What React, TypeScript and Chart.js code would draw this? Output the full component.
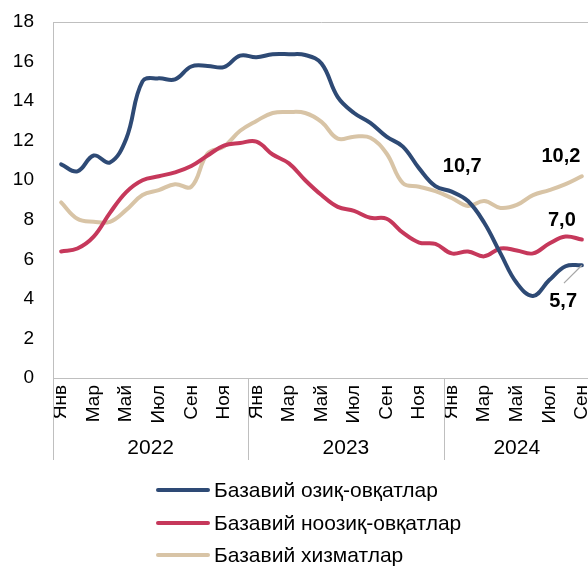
import React, { useEffect, useRef } from 'react';
import { Chart, registerables } from 'chart.js';

Chart.register(...registerables);

const categories: string[] = [
  'Янв', 'Фев', 'Мар', 'Апр', 'Май', 'Июн', 'Июл', 'Авг', 'Сен', 'Окт', 'Ноя', 'Дек',
  'Янв', 'Фев', 'Мар', 'Апр', 'Май', 'Июн', 'Июл', 'Авг', 'Сен', 'Окт', 'Ноя', 'Дек',
  'Янв', 'Фев', 'Мар', 'Апр', 'Май', 'Июн', 'Июл', 'Авг', 'Сен',
];

const yearLabels: string[] = ['2022', '2023', '2024'];
const yearFirstIndex: number[] = [0, 12, 24];
const yearLastIndex: number[] = [11, 23, 32];

const foodValues: number[] = [
  10.8, 10.45, 11.25, 10.9, 12.1, 15.0, 15.15, 15.1, 15.75, 15.78, 15.72, 16.3,
  16.22, 16.37, 16.37, 16.33, 15.9, 14.2, 13.4, 12.9, 12.2, 11.7, 10.6, 9.7,
  9.42, 8.95, 7.85, 6.3, 4.8, 4.15, 4.95, 5.65, 5.7,
];

const nonFoodValues: number[] = [
  6.4, 6.55, 7.15, 8.35, 9.4, 10.0, 10.2, 10.4, 10.72, 11.25, 11.75, 11.88,
  11.95, 11.3, 10.85, 10.0, 9.25, 8.65, 8.45, 8.1, 8.05, 7.35, 6.85, 6.78,
  6.3, 6.4, 6.15, 6.55, 6.45, 6.3, 6.8, 7.15, 7.0,
];

const servicesValues: number[] = [
  8.88, 8.05, 7.9, 7.9, 8.5, 9.25, 9.5, 9.8, 9.67, 11.35, 11.7, 12.5,
  13.0, 13.4, 13.45, 13.4, 12.95, 12.1, 12.2, 12.15, 11.35, 9.85, 9.67, 9.45,
  9.1, 8.7, 8.95, 8.6, 8.75, 9.25, 9.5, 9.8, 10.2,
];

const seriesNames: string[] = [
  'Базавий озиқ-овқатлар',
  'Базавий ноозиқ-овқатлар',
  'Базавий хизматлар',
];
const seriesColors: string[] = ['#2E4A75', '#C6385B', '#D8C4A6'];

const yTickValues: number[] = [0, 2, 4, 6, 8, 10, 12, 14, 16, 18];

// value annotations (text, category index, value)
const annotationTexts: string[] = ['10,7', '10,2', '7,0', '5,7'];
const annotationIndex: number[] = [24.65, 30.71, 30.77, 30.85];
const annotationValue: number[] = [10.67, 11.21, 7.96, 3.86];
const leaderFrom: number[] = [30.9, 4.8];
const leaderTo: number[] = [32, 5.7];

const FONT = '"Liberation Sans", Arial, sans-serif';
const AXIS_GREY = '#BFBFBF';

const overlayPlugin = {
  id: 'overlay',
  afterDraw(chart: any) {
    const ctx = chart.ctx as CanvasRenderingContext2D;
    const area = chart.chartArea;
    const xs = chart.scales.x;
    const ys = chart.scales.y;
    ctx.save();

    // top border of plot area
    ctx.strokeStyle = AXIS_GREY;
    ctx.lineWidth = 1;
    ctx.beginPath();
    ctx.moveTo(area.left, Math.round(area.top) + 0.5);
    ctx.lineTo(area.right, Math.round(area.top) + 0.5);
    ctx.stroke();

    // year separators
    const sepBottom = 460;
    const bounds: number[] = [];
    for (let i = 0; i < yearFirstIndex.length; i++) {
      bounds.push(xs.getPixelForValue(yearFirstIndex[i] - 0.5));
    }
    bounds.push(xs.getPixelForValue(yearLastIndex[yearLastIndex.length - 1] + 0.5));
    ctx.beginPath();
    for (const b of bounds) {
      const x = Math.round(b) + 0.5;
      ctx.moveTo(x, area.bottom);
      ctx.lineTo(x, sepBottom);
    }
    ctx.stroke();

    // year labels
    ctx.fillStyle = '#000';
    ctx.font = `21px ${FONT}`;
    ctx.textAlign = 'center';
    ctx.textBaseline = 'middle';
    for (let i = 0; i < yearLabels.length; i++) {
      const x0 = xs.getPixelForValue(yearFirstIndex[i] - 0.5);
      const x1 = xs.getPixelForValue(yearLastIndex[i] + 0.5);
      ctx.fillText(yearLabels[i], (x0 + x1) / 2, 448);
    }

    // annotations
    ctx.font = `bold 20px ${FONT}`;
    for (let i = 0; i < annotationTexts.length; i++) {
      ctx.fillText(
        annotationTexts[i],
        xs.getPixelForValue(annotationIndex[i]),
        ys.getPixelForValue(annotationValue[i])
      );
    }
    ctx.strokeStyle = '#A6A6A6';
    ctx.lineWidth = 1.2;
    ctx.beginPath();
    ctx.moveTo(xs.getPixelForValue(leaderFrom[0]), ys.getPixelForValue(leaderFrom[1]));
    ctx.lineTo(xs.getPixelForValue(leaderTo[0]), ys.getPixelForValue(leaderTo[1]));
    ctx.stroke();

    // legend
    const legendX = 156;
    const swatch = 54;
    const rowY = [490, 523, 555];
    ctx.font = `21px ${FONT}`;
    ctx.textAlign = 'left';
    chart.data.datasets.forEach((ds: any, i: number) => {
      ctx.strokeStyle = ds.borderColor;
      ctx.lineWidth = 4;
      ctx.lineCap = 'round';
      ctx.beginPath();
      ctx.moveTo(legendX + 2, rowY[i]);
      ctx.lineTo(legendX + swatch - 2, rowY[i]);
      ctx.stroke();
      ctx.fillStyle = '#000';
      ctx.fillText(ds.label, legendX + swatch + 4, rowY[i] + 1);
    });

    ctx.restore();
  },
};

export default function App() {
  const canvasRef = useRef<HTMLCanvasElement | null>(null);

  useEffect(() => {
    if (!canvasRef.current) return;
    Chart.defaults.font.family = FONT;
    const valuesList = [foodValues, nonFoodValues, servicesValues];
    const chart = new Chart(canvasRef.current, {
      type: 'line',
      data: {
        labels: categories,
        datasets: valuesList.map((vals, i) => ({
          label: seriesNames[i],
          data: vals,
          borderColor: seriesColors[i],
          backgroundColor: seriesColors[i],
          borderWidth: 4,
          pointRadius: 0,
          tension: 0.4,
          borderCapStyle: 'round' as const,
          borderJoinStyle: 'round' as const,
          fill: false,
        })),
      },
      options: {
        responsive: false,
        animation: false,
        devicePixelRatio: 1,
        layout: { padding: { left: 0, right: 2, top: 22, bottom: 0 } },
        plugins: {
          legend: { display: false },
          tooltip: { enabled: false },
        },
        scales: {
          x: {
            type: 'category',
            offset: true,
            grid: { display: false, drawTicks: false },
            border: { display: true, color: AXIS_GREY, width: 1 },
            ticks: {
              autoSkip: false,
              maxRotation: 90,
              minRotation: 90,
              padding: 7,
              color: '#000',
              font: { size: 19, family: FONT },
              callback: (_v: any, idx: number) => (idx % 2 === 0 ? categories[idx] : ''),
            },
            afterFit: (scale: any) => {
              scale.height = 188;
              scale.paddingLeft = 0;
              scale.paddingRight = 0;
              scale.paddingTop = 0;
              scale.paddingBottom = 0;
            },
          },
          y: {
            type: 'linear',
            min: 0,
            max: 18,
            grid: { display: false, drawTicks: false },
            border: { display: true, color: AXIS_GREY, width: 1 },
            afterBuildTicks: (scale: any) => {
              scale.ticks = yTickValues.map((v) => ({ value: v }));
            },
            ticks: {
              padding: 19,
              color: '#000',
              font: { size: 19, family: FONT },
            },
            afterFit: (scale: any) => {
              scale.width = 53;
              scale.paddingTop = 0;
              scale.paddingBottom = 0;
              scale.paddingLeft = 0;
              scale.paddingRight = 0;
            },
          },
        },
      },
      plugins: [overlayPlugin],
    });
    return () => chart.destroy();
  }, []);

  return (
    <div
      style={{
        position: 'absolute',
        left: 0,
        top: 0,
        width: 588,
        height: 566,
        overflow: 'hidden',
        background: '#fff',
      }}
    >
      <canvas ref={canvasRef} width={592} height={566} style={{ width: 592, height: 566 }} />
    </div>
  );
}
